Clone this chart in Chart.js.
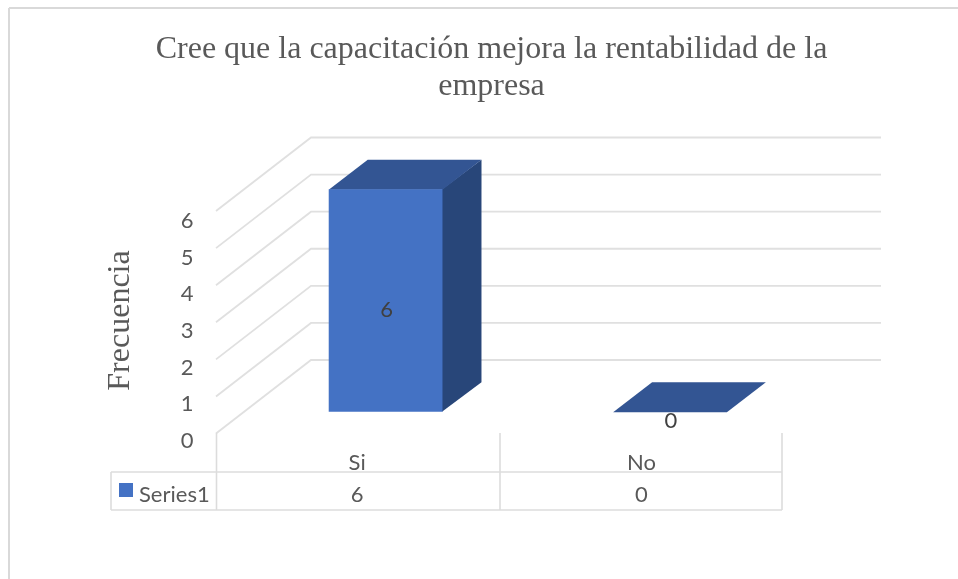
<!DOCTYPE html>
<html>
<head>
<meta charset="utf-8">
<style>
html,body{margin:0;padding:0;background:#fff;width:958px;height:579px;overflow:hidden}
#wrap{position:absolute;left:0;top:0;width:958px;height:579px}
canvas{display:block}
</style>
<script src="https://cdn.jsdelivr.net/npm/chart.js@4"></script>
</head>
<body>
<div id="wrap"><canvas id="c" width="958" height="579"></canvas></div>
<script>
const categories = ['Si', 'No'];
const seriesName = 'Series1';
const seriesValues = [6, 0];
const yTickValues = [0, 1, 2, 3, 4, 5, 6];
const titleLines = ['Cree que la capacitación mejora la rentabilidad de la', 'empresa'];
const yAxisTitle = 'Frecuencia';

const plotTop = 120, plotBottom = 445;
const sansFont = 'Lato, sans-serif', serifFont = '"Liberation Serif", serif';
const textColor = '#595959', lineColor = '#dcdcdc';
const depth = {dx: 39, dy: -29.5};
const wall = {dx: 95, dy: -73.5};
function range(zeroPx, unitPx) {
  return {min: (zeroPx - plotBottom) / unitPx, max: (zeroPx - plotTop) / unitPx};
}
function poly(ctx, pts, color) {
  ctx.beginPath();
  pts.forEach((p, i) => i ? ctx.lineTo(p[0], p[1]) : ctx.moveTo(p[0], p[1]));
  ctx.closePath();
  ctx.fillStyle = color;
  ctx.fill();
}
function seg(ctx, x1, y1, x2, y2) {
  ctx.beginPath(); ctx.moveTo(x1, y1); ctx.lineTo(x2, y2); ctx.stroke();
}

const threeD = {
  id: 'threeD',
  afterLayout(chart) {
    const s = chart.scales.y;          // centre the axis title on the wall, as in the picture
    s.top += 38; s.bottom += 38;
  },
  beforeDraw(chart) {
    const ctx = chart.ctx;
    ctx.save();
    ctx.fillStyle = '#fff';
    ctx.fillRect(0, 0, chart.width, chart.height);
    ctx.strokeStyle = '#d9d9d9';
    ctx.lineWidth = 2;
    seg(ctx, 9, 8, chart.width, 8);
    seg(ctx, 9, 8, 9, chart.height);
    ctx.restore();
  },
  beforeDatasetsDraw(chart) {
    const ctx = chart.ctx, g = chart.scales.yGrid;
    ctx.save();
    ctx.strokeStyle = '#e0e0e0';
    ctx.lineWidth = 1.8;
    yTickValues.forEach(v => {
      const y = g.getPixelForValue(v);
      const backX = 311, rightX = 881;
      ctx.beginPath();
      ctx.moveTo(backX - wall.dx, y - wall.dy);
      ctx.lineTo(backX, y);
      ctx.lineTo(rightX, y);
      ctx.stroke();
    });
    // side and top faces of each bar, built from the bar element
    chart.getDatasetMeta(0).data.forEach(b => {
      const l = b.x - b.width / 2, r = b.x + b.width / 2;
      if (b.base - b.y > 0) {
        poly(ctx, [[r - 0.5, b.y], [r + depth.dx, b.y + depth.dy], [r + depth.dx, b.base + depth.dy], [r - 0.5, b.base]], '#284679');
      }
      poly(ctx, [[l, b.y + 0.5], [l + depth.dx, b.y + depth.dy], [r + depth.dx, b.y + depth.dy], [r, b.y + 0.5]], '#335593');
    });
    ctx.restore();
  },
  afterDatasetsDraw(chart) {
    const ctx = chart.ctx;
    ctx.save();
    ctx.font = '22px ' + sansFont;
    ctx.fillStyle = '#404040';
    ctx.textAlign = 'center';
    ctx.textBaseline = 'middle';
    chart.getDatasetMeta(0).data.forEach((b, i) => {
      ctx.fillText(String(seriesValues[i]), b.x + 1, (b.y + b.base) / 2 + 9);
    });
    ctx.restore();
  },
  afterDraw(chart) {
    const ctx = chart.ctx, x = chart.scales.x;
    const shift = 28.5;
    ctx.save();
    ctx.strokeStyle = lineColor;
    ctx.lineWidth = 1.6;
    const cols = [216.5, 500, 782];
    cols.forEach(cx => seg(ctx, cx, 433, cx, 510));
    seg(ctx, 111, 472, 782, 472);
    seg(ctx, 111, 510, 782, 510);
    seg(ctx, 111, 472, 111, 510);
    ctx.font = '22px ' + sansFont;
    ctx.fillStyle = textColor;
    ctx.textBaseline = 'middle';
    ctx.textAlign = 'center';
    seriesValues.forEach((v, i) => ctx.fillText(String(v), x.getPixelForValue(i) - shift, 495));
    ctx.textAlign = 'left';
    ctx.fillText(seriesName, 139, 495);
    ctx.fillStyle = '#4472c4';
    ctx.fillRect(119, 483, 14, 14);
    ctx.restore();
  }
};

new Chart(document.getElementById('c'), {
  type: 'bar',
  data: {
    labels: categories,
    datasets: [{
      label: seriesName,
      data: seriesValues,
      yAxisID: 'yBar',
      backgroundColor: '#4472c4',
      borderWidth: 0,
      barPercentage: 0.4,
      categoryPercentage: 1
    }]
  },
  options: {
    responsive: false,
    animation: false,
    layout: {padding: {left: 101, right: 76, top: 0, bottom: 0}},
    plugins: {
      legend: {display: false},
      tooltip: {enabled: false},
      title: {
        display: true,
        text: titleLines,
        color: textColor,
        font: {family: serifFont, size: 32, weight: 'normal', lineHeight: 37 / 32},
        padding: {top: 31, bottom: 15}
      }
    },
    scales: {
      x: {
        grid: {display: false, drawTicks: false},
        border: {display: false},
        ticks: {color: textColor, font: {family: sansFont, size: 22}, padding: 5, labelOffset: -28.5, maxRotation: 0},
        afterFit(s) { s.height = 579 - plotBottom; }
      },
      y: {
        position: 'left',
        ...range(441, 36.7),
        grid: {display: false, drawTicks: false},
        border: {display: false},
        afterBuildTicks(s) { s.ticks = yTickValues.map(v => ({value: v})); },
        afterFit(s) { s.width = 142.4; },
        ticks: {color: textColor, font: {family: sansFont, size: 22}, padding: 50, autoSkip: false, callback: v => String(v)},
        title: {display: true, text: yAxisTitle, color: textColor, font: {family: serifFont, size: 32, weight: 'normal'}, padding: {top: 0, bottom: 0}}
      },
      yBar: {display: false, ...range(411.7, 37.07)},
      yGrid: {
        position: 'right',
        ...range(360, 37.08),
        grid: {display: false, drawTicks: false},
        border: {display: false},
        ticks: {display: false},
        afterFit(s) { s.width = 69.8; }
      }
    }
  },
  plugins: [threeD]
});
</script>
</body>
</html>
